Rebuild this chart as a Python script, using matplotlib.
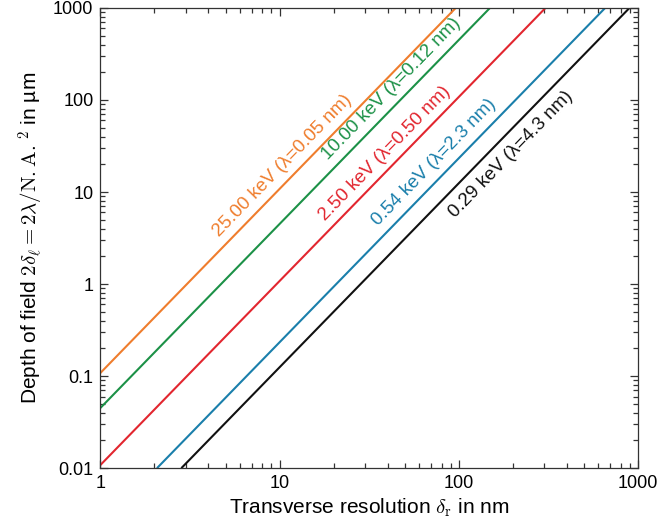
import numpy as np
import matplotlib
matplotlib.use('Agg')
import matplotlib.pyplot as plt
from matplotlib.ticker import FixedLocator, FixedFormatter, LogLocator, NullFormatter

plt.rcParams['font.family'] = ['Liberation Sans', 'DejaVu Sans']
plt.rcParams['mathtext.fontset'] = 'cm'

# Linhas (pontos extremos)
x_laranja = [1, 96]
y_laranja = [0.108, 1000]
x_verde = [1, 149]
y_verde = [0.045, 1000]
x_vermelho = [1, 304]
y_vermelho = [0.0108, 1000]
x_azul = [2.07, 654]
y_azul = [0.01, 1000]
x_preto = [2.83, 894]
y_preto = [0.01, 1000]

rotulos = ['25.00 keV (λ=0.05 nm)', '10.00 keV (λ=0.12 nm)', '2.50 keV (λ=0.50 nm)',
           '0.54 keV (λ=2.3 nm)', '0.29 keV (λ=4.3 nm)']
inicio_rotulo = [5.0, 20.5, 19.5, 39, 78]

xticks = [1, 10, 100, 1000]
xtick_labels = ['1', '10', '100', '1000']
yticks = [0.01, 0.1, 1, 10, 100, 1000]
ytick_labels = ['0.01', '0.1', '1', '10', '100', '1000']

cores = ['#ef7d2d', '#1c9147', '#e2262f', '#1a7fab', '#111111']

fig, ax = plt.subplots(figsize=(6.6, 5.29), dpi=100)
fig.subplots_adjust(left=0.152, right=0.967, bottom=0.115, top=0.985)

series = [(x_laranja, y_laranja), (x_verde, y_verde), (x_vermelho, y_vermelho),
          (x_azul, y_azul), (x_preto, y_preto)]
for (xs, ys), c in zip(series, cores):
    ax.plot(xs, ys, color=c, lw=1.5, solid_capstyle='butt')

ax.set_xscale('log')
ax.set_yscale('log')
ax.set_xlim(1, 1000)
ax.set_ylim(0.01, 1000)

ax.xaxis.set_major_locator(FixedLocator(xticks))
ax.xaxis.set_major_formatter(FixedFormatter(xtick_labels))
ax.yaxis.set_major_locator(FixedLocator(yticks))
ax.yaxis.set_major_formatter(FixedFormatter(ytick_labels))
ax.xaxis.set_minor_locator(LogLocator(base=10, subs=np.arange(2, 10)))
ax.yaxis.set_minor_locator(LogLocator(base=10, subs=np.arange(2, 10)))
ax.xaxis.set_minor_formatter(NullFormatter())
ax.yaxis.set_minor_formatter(NullFormatter())
ax.tick_params(which='both', direction='in', top=True, right=True, color='#333333', width=0.9)
ax.tick_params(which='major', length=6, labelsize=13, pad=5)
ax.tick_params(which='minor', length=3.5)
for s in ax.spines.values():
    s.set_linewidth(0.9)
    s.set_color('#333333')

ax.set_xlabel(r'Transverse resolution $\delta_\mathrm{r}$ in nm', fontsize=15, labelpad=3)
ax.set_ylabel(r'Depth of field $2\delta_\ell = 2\lambda/\mathrm{N{.}A{.}}^{\,2}$ in µm', fontsize=15, labelpad=5)

# Rotulos ao longo das linhas
for i, ((xs, ys), c, txt) in enumerate(zip(series, cores, rotulos)):
    p1 = ax.transData.transform((xs[0], ys[0]))
    p2 = ax.transData.transform((xs[1], ys[1]))
    ang = np.degrees(np.arctan2(p2[1] - p1[1], p2[0] - p1[0]))
    # ponto na linha (interpolacao em log)
    lx = inicio_rotulo[i]
    t = (np.log10(lx) - np.log10(xs[0])) / (np.log10(xs[1]) - np.log10(xs[0]))
    ly = 10 ** (np.log10(ys[0]) + t * (np.log10(ys[1]) - np.log10(ys[0])))
    r = np.radians(ang)
    if i < 4:
        d = 7.0
        off = (-np.sin(r) * d, np.cos(r) * d)
        va = 'baseline'
    else:
        d = 6.0
        off = (np.sin(r) * d, -np.cos(r) * d)
        va = 'top'
    ax.annotate(txt, (lx, ly), xytext=off, textcoords='offset points', color=c,
                fontsize=13.5, rotation=ang, rotation_mode='anchor', ha='left', va=va)

plt.savefig('out.png', dpi=100)
